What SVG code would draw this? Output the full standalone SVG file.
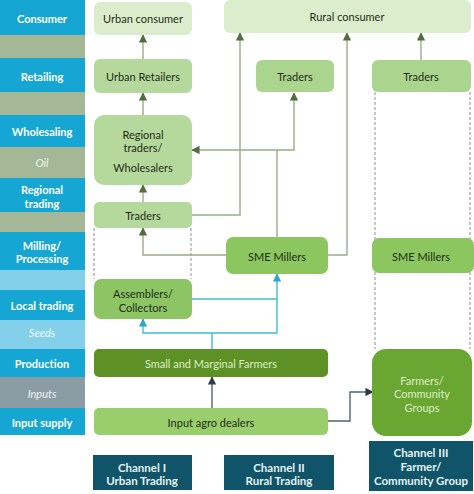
<svg xmlns="http://www.w3.org/2000/svg" width="474" height="494" viewBox="0 0 474 494">
<defs>
<style>
.lab{font-family:Lato,"Open Sans","Liberation Sans",sans-serif;font-size:11px;font-weight:bold;fill:#ffffff;text-anchor:middle;dominant-baseline:central}
.it{font-family:Lato,"Open Sans","Liberation Sans",sans-serif;font-size:11px;font-style:italic;text-anchor:middle;dominant-baseline:central}
.t{font-family:Lato,"Open Sans","Liberation Sans",sans-serif;font-size:11px;fill:#1f2d16;text-anchor:middle;dominant-baseline:central}
.tl{font-family:Lato,"Open Sans","Liberation Sans",sans-serif;font-size:11px;fill:#dcefc6;text-anchor:middle;dominant-baseline:central}
.ch{font-family:Lato,"Open Sans","Liberation Sans",sans-serif;font-size:11.5px;font-weight:bold;fill:#e6f2f5;text-anchor:middle;dominant-baseline:central}
.g{fill:none;stroke:#98ad88;stroke-width:1.4}
.c{fill:none;stroke:#3fbcd3;stroke-width:1.4}
.s{fill:none;stroke:#4f6675;stroke-width:1.4}
.d{fill:none;stroke:#a0a0a8;stroke-width:1.2;stroke-dasharray:3,2}
</style>
<marker id="ag" viewBox="0 0 10 10" refX="9" refY="5" markerWidth="6" markerHeight="6" orient="auto"><path d="M0,0L10,5L0,10z" fill="#4e6e3a"/></marker>
<marker id="ac" viewBox="0 0 10 10" refX="9" refY="5" markerWidth="6" markerHeight="6" orient="auto"><path d="M0,0L10,5L0,10z" fill="#2aa9c6"/></marker>
<marker id="as" viewBox="0 0 10 10" refX="9" refY="5" markerWidth="6" markerHeight="6" orient="auto"><path d="M0,0L10,5L0,10z" fill="#2f3f48"/></marker>
</defs>
<rect width="474" height="494" fill="#ffffff"/>

<g id="stages">
<rect x="0" y="0" width="85" height="35" fill="#16a6d3"/>
<rect x="0" y="35" width="85" height="23" fill="#a4b897"/>
<rect x="0" y="58" width="85" height="34" fill="#16a6d3"/>
<rect x="0" y="92" width="85" height="23" fill="#a4b897"/>
<rect x="0" y="115" width="85" height="32" fill="#16a6d3"/>
<rect x="0" y="147" width="85" height="31" fill="#a4b897"/>
<rect x="0" y="178" width="85" height="34" fill="#16a6d3"/>
<rect x="0" y="212" width="85" height="20" fill="#a4b897"/>
<rect x="0" y="232" width="85" height="38" fill="#16a6d3"/>
<rect x="0" y="270" width="85" height="20" fill="#84d0ea"/>
<rect x="0" y="290" width="85" height="30" fill="#16a6d3"/>
<rect x="0" y="320" width="85" height="29" fill="#84d0ea"/>
<rect x="0" y="349" width="85" height="28" fill="#16a6d3"/>
<rect x="0" y="377" width="85" height="31" fill="#8c9ca5"/>
<rect x="0" y="408" width="85" height="27" fill="#16a6d3"/>
<text class="lab" x="42" y="18">Consumer</text>
<text class="lab" x="42" y="76">Retailing</text>
<text class="lab" x="42" y="131">Wholesaling</text>
<text class="it" x="42" y="162" fill="#eef3ea">Oil</text>
<text class="lab" x="42" y="189">Regional</text>
<text class="lab" x="42" y="203">trading</text>
<text class="lab" x="42" y="245">Milling/</text>
<text class="lab" x="42" y="258">Processing</text>
<text class="lab" x="42" y="305">Local trading</text>
<text class="it" x="42" y="332" fill="#eef8fc">Seeds</text>
<text class="lab" x="42" y="363">Production</text>
<text class="it" x="42" y="393" fill="#eef2f4">Inputs</text>
<text class="lab" x="42" y="422">Input supply</text>
</g>

<g id="connectors">
<line class="d" x1="94" y1="228" x2="94" y2="279"/>
<line class="d" x1="191" y1="228" x2="191" y2="279"/>
<line class="d" x1="375" y1="92" x2="375" y2="349"/>
<line class="d" x1="470" y1="92" x2="470" y2="349"/>
<path class="g" d="M143,59V35" marker-end="url(#ag)"/>
<path class="g" d="M143,115V93" marker-end="url(#ag)"/>
<path class="g" d="M143,202V185" marker-end="url(#ag)"/>
<path class="g" d="M226,255H143V228" marker-end="url(#ag)"/>
<path class="g" d="M192,215H240V33" marker-end="url(#ag)"/>
<path class="g" d="M277,237V150H192" marker-end="url(#ag)"/>
<path class="g" d="M277,150H294V93" marker-end="url(#ag)"/>
<path class="g" d="M328,255H347V33" marker-end="url(#ag)"/>
<path class="g" d="M421,60V33" marker-end="url(#ag)"/>
<path class="c" d="M212,349V333H143V319" marker-end="url(#ac)"/>
<path class="c" d="M212,333H277V274" marker-end="url(#ac)"/>
<path class="c" d="M192,299H277"/>
<path class="s" d="M212,408V377" marker-end="url(#as)"/>
<path class="s" d="M328,421H350V392H373" marker-end="url(#as)"/>
</g>

<g id="urban-consumer"><rect x="94" y="2" width="98" height="33" rx="6" fill="#dcedcd"/><text class="t" x="143" y="18">Urban consumer</text></g>
<g id="rural-consumer"><rect x="224" y="0" width="247" height="33" rx="6" fill="#dcedcd"/><text class="t" x="347" y="16">Rural consumer</text></g>
<g id="urban-retailers"><rect x="94" y="59" width="98" height="34" rx="6" fill="#b5d99c"/><text class="t" x="143" y="76">Urban Retailers</text></g>
<g id="traders-rural"><rect x="256" y="60" width="78" height="32" rx="6" fill="#abd48e"/><text class="t" x="295" y="76">Traders</text></g>
<g id="traders-group"><rect x="372" y="60" width="99" height="32" rx="6" fill="#abd48e"/><text class="t" x="421" y="76">Traders</text></g>
<g id="regional-traders"><rect x="94" y="115" width="98" height="70" rx="10" fill="#b5d99c"/><text class="t" x="143" y="134">Regional</text><text class="t" x="143" y="147">traders/</text><text class="t" x="143" y="167">Wholesalers</text></g>
<g id="traders-urban"><rect x="94" y="202" width="98" height="26" rx="5" fill="#b5d99c"/><text class="t" x="143" y="215">Traders</text></g>
<g id="assemblers"><rect x="94" y="279" width="98" height="40" rx="7" fill="#8dc564"/><text class="t" x="143" y="293">Assemblers/</text><text class="t" x="143" y="307">Collectors</text></g>
<g id="sme-millers-rural"><rect x="226" y="237" width="102" height="37" rx="7" fill="#8cc65e"/><text class="t" x="277" y="256">SME Millers</text></g>
<g id="sme-millers-group"><rect x="372" y="238" width="102" height="35" rx="7" fill="#8cc65e"/><text class="t" x="421" y="256">SME Millers</text></g>
<g id="small-farmers"><rect x="94" y="349" width="234" height="28" rx="5" fill="#5e9125"/><text class="tl" x="211" y="363">Small and Marginal Farmers</text></g>
<g id="input-dealers"><rect x="94" y="408" width="234" height="27" rx="5" fill="#9acd6c"/><text class="t" x="211" y="422">Input agro dealers</text></g>
<g id="farmer-groups"><rect x="372" y="349" width="100" height="87" rx="14" fill="#6aa632"/><text class="tl" x="422" y="380">Farmers/</text><text class="tl" x="422" y="393">Community</text><text class="tl" x="422" y="407">Groups</text></g>
<g id="channel-1"><rect x="93" y="455" width="99" height="35" fill="#0f5468"/><text class="ch" x="142" y="467">Channel I</text><text class="ch" x="142" y="480">Urban Trading</text></g>
<g id="channel-2"><rect x="224" y="455" width="110" height="35" fill="#0f5468"/><text class="ch" x="279" y="467">Channel II</text><text class="ch" x="279" y="480">Rural Trading</text></g>
<g id="channel-3"><rect x="369" y="441" width="104" height="50" fill="#0f5468"/><text class="ch" x="421" y="452">Channel III</text><text class="ch" x="421" y="466">Farmer/</text><text class="ch" x="421" y="480">Community Group</text></g>
</svg>
